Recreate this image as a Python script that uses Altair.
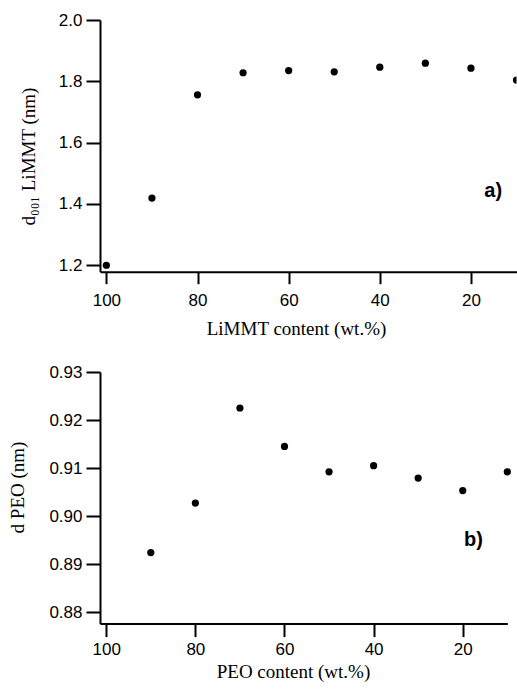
import altair as alt
import pandas as pd

# Panel a) LiMMT
limmt_content = [100, 90, 80, 70, 60, 50, 40, 30, 20, 10]
d001_limmt = [1.200, 1.419, 1.756, 1.828, 1.835, 1.831, 1.846, 1.859, 1.843, 1.804]

# Panel b) PEO
peo_content = [90, 80, 70, 60, 50, 40, 30, 20, 10]
d_peo = [0.8924, 0.9027, 0.9225, 0.9145, 0.9092, 0.9105, 0.9079, 0.9053, 0.9092]

x_ticks = [100, 80, 60, 40, 20]
ya_ticks = [1.2, 1.4, 1.6, 1.8, 2.0]
yb_ticks = [0.88, 0.89, 0.90, 0.91, 0.92, 0.93]

df_a = pd.DataFrame({"x": limmt_content, "y": d001_limmt})
df_b = pd.DataFrame({"x": peo_content, "y": d_peo})
lab_a = pd.DataFrame({"x": [15.1], "y": [1.442], "t": ["a)"]})
lab_b = pd.DataFrame({"x": [17.6], "y": [0.8951], "t": ["b)"]})

SANS = "Liberation Sans"
SERIF = "Liberation Serif"

def x_axis(title, tick, lpad, tx, ty):
    return alt.Axis(values=x_ticks, title=title, tickSize=tick, labelPadding=lpad,
                    titleX=tx, titleY=ty, titleBaseline="alphabetic", titleAlign="center",
                    format="d")

def y_axis(title, vals, fmt, tx, ty):
    return alt.Axis(values=vals, title=title, format=fmt, tickSize=14, labelPadding=4,
                    titleX=tx, titleY=ty, titleBaseline="alphabetic", titleAlign="center",
                    titleAngle=270)

xa = alt.X("x:Q", scale=alt.Scale(domain=[10, 101.4], reverse=True, nice=False, zero=False),
           axis=x_axis("LiMMT content (wt.%)", 12, 9, 196, 62.6))
ya = alt.Y("y:Q", scale=alt.Scale(domain=[1.179, 2.0], nice=False, zero=False),
           axis=y_axis("d₀₀₁ LiMMT (nm)", ya_ticks, ".1f", -66, 136))

pts_a = alt.Chart(df_a).mark_point(filled=True, color="black", size=52, opacity=1, clip=True).encode(x=xa, y=ya)
txt_a = alt.Chart(lab_a).mark_text(font=SANS, fontSize=20, fontWeight="bold", color="black",
                                   align="center", baseline="middle").encode(x="x:Q", y="y:Q", text="t:N")
panel_a = alt.layer(pts_a, txt_a).properties(width=416.5, height=251.7)

xb = alt.X("x:Q", scale=alt.Scale(domain=[10, 101.4], reverse=True, nice=False, zero=False),
           axis=x_axis("PEO content (wt.%)", 13, 5, 193, 54.3))
yb = alt.Y("y:Q", scale=alt.Scale(domain=[0.8776, 0.93], nice=False, zero=False),
           axis=y_axis("d PEO (nm)", yb_ticks, ".2f", -77, 115))

pts_b = alt.Chart(df_b).mark_point(filled=True, color="black", size=52, opacity=1).encode(x=xb, y=yb)
txt_b = alt.Chart(lab_b).mark_text(font=SANS, fontSize=20, fontWeight="bold", color="black",
                                   align="center", baseline="middle").encode(x="x:Q", y="y:Q", text="t:N")
panel_b = alt.layer(pts_b, txt_b).properties(width=407.3, height=251.6)

chart = alt.vconcat(panel_a, panel_b, spacing=100, bounds="flush").properties(
    padding={"left": 8, "top": 11, "right": 0, "bottom": 0},
    background="white",
).configure_view(stroke=None).configure_axis(
    grid=False,
    domainColor="black", domainWidth=2,
    tickColor="black", tickWidth=2,
    labelFont=SANS, labelFontSize=17, labelColor="black",
    titleFont=SERIF, titleFontSize=19, titleFontWeight="normal", titleColor="black",
)

chart.save("out.html", embed_options={"renderer": "svg", "actions": False})
